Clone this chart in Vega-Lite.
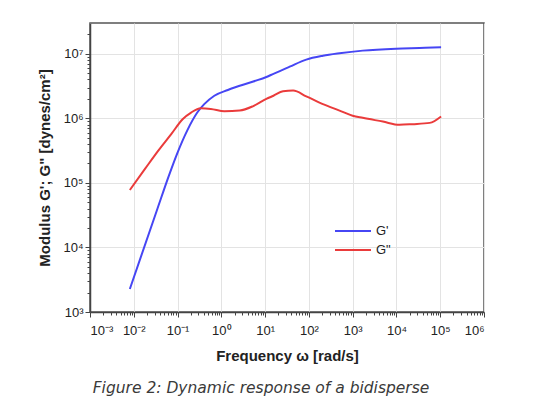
{
  "$schema": "https://vega.github.io/schema/vega-lite/v6.json",
  "width": 394,
  "height": 289,
  "autosize": "none",
  "padding": {"left": 90, "top": 23, "right": 63, "bottom": 96},
  "background": "white",
  "config": {
    "font": "Liberation Sans",
    "view": {"stroke": "#555555", "strokeWidth": 1.5},
    "axis": {
      "domainColor": "#444444",
      "domainWidth": 1.5,
      "tickColor": "#444444",
      "labelColor": "#222222",
      "titleColor": "#222222",
      "gridColor": "#e3e3e3",
      "labelFontSize": 13,
      "titleFontSize": 15,
      "titleFontWeight": "bold",
      "labelOverlap": false
    }
  },
  "title": {
    "text": "Figure 2: Dynamic response of a bidisperse",
    "orient": "bottom",
    "font": "DejaVu Sans",
    "fontSize": 15.5,
    "fontStyle": "italic",
    "fontWeight": "normal",
    "color": "#3a3a3a",
    "offset": 18,
    "dx": -26
  },
  "data": {
    "values": [
      {"series": "G'", "omega": 0.00813, "G": 2275},
      {"series": "G'", "omega": 0.0347, "G": 39800},
      {"series": "G'", "omega": 0.0617, "G": 123000},
      {"series": "G'", "omega": 0.1, "G": 295000},
      {"series": "G'", "omega": 0.166, "G": 646000},
      {"series": "G'", "omega": 0.282, "G": 1230000},
      {"series": "G'", "omega": 0.407, "G": 1660000},
      {"series": "G'", "omega": 0.692, "G": 2240000},
      {"series": "G'", "omega": 1.41, "G": 2750000},
      {"series": "G'", "omega": 5.37, "G": 3720000},
      {"series": "G'", "omega": 10.7, "G": 4370000},
      {"series": "G'", "omega": 15.5, "G": 4900000},
      {"series": "G'", "omega": 36.3, "G": 6310000},
      {"series": "G'", "omega": 87.1, "G": 8130000},
      {"series": "G'", "omega": 209, "G": 9330000},
      {"series": "G'", "omega": 501, "G": 10200000},
      {"series": "G'", "omega": 1698, "G": 11200000},
      {"series": "G'", "omega": 9772, "G": 12000000},
      {"series": "G'", "omega": 33900, "G": 12300000},
      {"series": "G'", "omega": 104700, "G": 12600000},
      {"series": "G\"", "omega": 0.00813, "G": 77600},
      {"series": "G\"", "omega": 0.0182, "G": 166000},
      {"series": "G\"", "omega": 0.0363, "G": 316000},
      {"series": "G\"", "omega": 0.0724, "G": 575000},
      {"series": "G\"", "omega": 0.132, "G": 977000},
      {"series": "G\"", "omega": 0.204, "G": 1230000},
      {"series": "G\"", "omega": 0.339, "G": 1430000},
      {"series": "G\"", "omega": 0.575, "G": 1400000},
      {"series": "G\"", "omega": 1.175, "G": 1290000},
      {"series": "G\"", "omega": 2.63, "G": 1320000},
      {"series": "G\"", "omega": 5.37, "G": 1550000},
      {"series": "G\"", "omega": 10.7, "G": 2000000},
      {"series": "G\"", "omega": 15.5, "G": 2240000},
      {"series": "G\"", "omega": 25.7, "G": 2630000},
      {"series": "G\"", "omega": 43.7, "G": 2690000},
      {"series": "G\"", "omega": 87.1, "G": 2190000},
      {"series": "G\"", "omega": 209, "G": 1660000},
      {"series": "G\"", "omega": 501, "G": 1320000},
      {"series": "G\"", "omega": 1000, "G": 1100000},
      {"series": "G\"", "omega": 1698, "G": 1020000},
      {"series": "G\"", "omega": 4898, "G": 891000},
      {"series": "G\"", "omega": 11750, "G": 794000},
      {"series": "G\"", "omega": 23440, "G": 813000},
      {"series": "G\"", "omega": 57500, "G": 851000},
      {"series": "G\"", "omega": 104700, "G": 1070000}
    ]
  },
  "mark": {"type": "line", "strokeWidth": 2, "interpolate": "monotone"},
  "encoding": {
    "x": {
      "field": "omega",
      "type": "quantitative",
      "title": "Frequency ω [rad/s]",
      "scale": {"type": "log", "domain": [0.001, 1000000], "nice": false},
      "axis": {
        "values": [0.001, 0.002, 0.003, 0.004, 0.005, 0.006, 0.007, 0.008, 0.009,
          0.01, 0.02, 0.03, 0.04, 0.05, 0.06, 0.07, 0.08, 0.09,
          0.1, 0.2, 0.3, 0.4, 0.5, 0.6, 0.7, 0.8, 0.9,
          1, 2, 3, 4, 5, 6, 7, 8, 9,
          10, 20, 30, 40, 50, 60, 70, 80, 90,
          100, 200, 300, 400, 500, 600, 700, 800, 900,
          1000, 2000, 3000, 4000, 5000, 6000, 7000, 8000, 9000,
          10000, 20000, 30000, 40000, 50000, 60000, 70000, 80000, 90000,
          100000, 200000, 300000, 400000, 500000, 600000, 700000, 800000, 900000, 1000000],
        "labelExpr": "abs(log(datum.value)/LN10 - round(log(datum.value)/LN10)) < 0.001 ? '10' + (round(log(datum.value)/LN10) < 0 ? '⁻' : '') + substring('⁰¹²³⁴⁵⁶⁷⁸⁹', abs(round(log(datum.value)/LN10)), abs(round(log(datum.value)/LN10)) + 1) : ''",
        "tickSize": {"condition": {"test": "abs(log(datum.value)/LN10 - round(log(datum.value)/LN10)) < 0.001", "value": 5}, "value": 3},
        "gridOpacity": {"condition": {"test": "abs(log(datum.value)/LN10 - round(log(datum.value)/LN10)) < 0.001", "value": 1}, "value": 0},
        "labelPadding": 7,
        "titlePadding": 11
      }
    },
    "y": {
      "field": "G",
      "type": "quantitative",
      "title": "Modulus G'; G\" [dynes/cm²]",
      "scale": {"type": "log", "domain": [1000, 30000000], "nice": false},
      "axis": {
        "values": [1000, 2000, 3000, 4000, 5000, 6000, 7000, 8000, 9000,
          10000, 20000, 30000, 40000, 50000, 60000, 70000, 80000, 90000,
          100000, 200000, 300000, 400000, 500000, 600000, 700000, 800000, 900000,
          1000000, 2000000, 3000000, 4000000, 5000000, 6000000, 7000000, 8000000, 9000000,
          10000000, 20000000],
        "labelExpr": "abs(log(datum.value)/LN10 - round(log(datum.value)/LN10)) < 0.001 ? '10' + (round(log(datum.value)/LN10) < 0 ? '⁻' : '') + substring('⁰¹²³⁴⁵⁶⁷⁸⁹', abs(round(log(datum.value)/LN10)), abs(round(log(datum.value)/LN10)) + 1) : ''",
        "tickSize": {"condition": {"test": "abs(log(datum.value)/LN10 - round(log(datum.value)/LN10)) < 0.001", "value": 5}, "value": 3},
        "gridOpacity": {"condition": {"test": "abs(log(datum.value)/LN10 - round(log(datum.value)/LN10)) < 0.001", "value": 1}, "value": 0},
        "labelPadding": 2,
        "titlePadding": 10
      }
    },
    "color": {
      "field": "series",
      "type": "nominal",
      "title": null,
      "scale": {"domain": ["G'", "G\""], "range": ["#4646f4", "#ea3b3b"]},
      "legend": {
        "orient": "none",
        "legendX": 256,
        "legendY": 201,
        "symbolType": "M-3,0H3",
        "symbolSize": 144,
        "symbolStrokeWidth": 2,
        "labelFontSize": 13,
        "labelColor": "#222222",
        "labelOffset": 16,
        "rowPadding": 5
      }
    }
  }
}
